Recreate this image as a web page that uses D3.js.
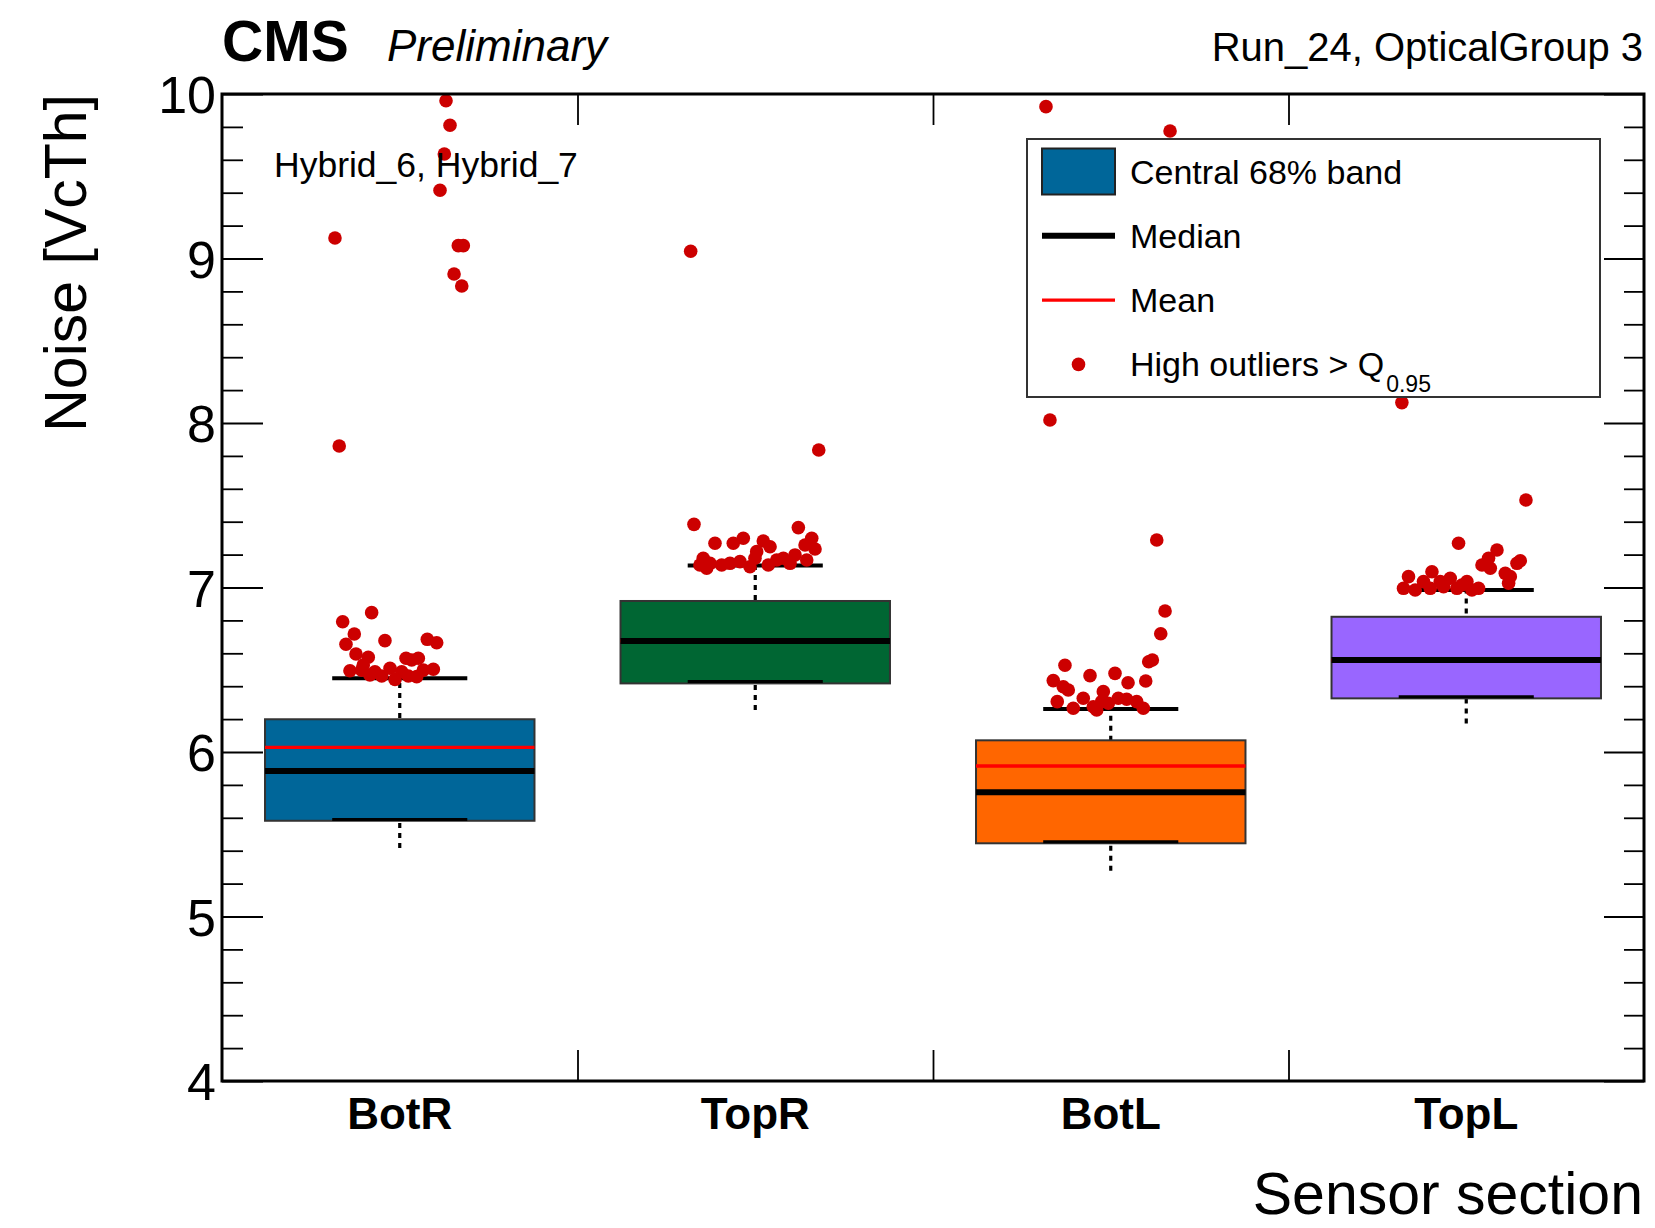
<!DOCTYPE html>
<html>
<head>
<meta charset="utf-8">
<script src="https://cdn.jsdelivr.net/npm/d3@7"></script>
<style>
  html, body { margin: 0; padding: 0; background: #fff; }
  svg { display: block; font-family: "Liberation Sans", Arial, Helvetica, sans-serif; }
</style>
</head>
<body>
<svg id="chart" width="1655" height="1228"></svg>
<script>
// Noise per sensor section: central 68% band, median, mean, whiskers and high outliers
const categories = ["BotR", "TopR", "BotL", "TopL"];
const bandLow    = [5.582, 6.417, 5.445, 6.326];
const bandHigh   = [6.199, 6.918, 6.071, 6.822];
const medians    = [5.884, 6.675, 5.755, 6.559];
const means      = [6.028, 6.675, 5.915, 6.559];
const capLow     = [5.590, 6.428, 5.455, 6.336];
const capHigh    = [6.448, 7.133, 6.261, 6.985];
const whiskerLow = [5.416, 6.255, 5.278, 6.174];
const boxColors  = ["#006699", "#006633", "#ff6600", "#9966ff"];

const yTicks = [4, 5, 6, 7, 8, 9, 10];

// High outliers: [horizontal spread (-1..1 of the cap half width), noise]
const outliersBotR = [
  [0.685, 9.959], [0.744, 9.810], [0.660, 9.635], [0.596, 9.415], [-0.959, 9.125],
  [0.867, 9.078], [0.941, 9.078], [0.804, 8.906], [0.918, 8.833], [-0.896, 7.860],
  [-0.416, 6.847], [-0.845, 6.792], [-0.673, 6.717], [-0.796, 6.655], [-0.219, 6.677],
  [0.408, 6.685], [0.547, 6.664], [-0.648, 6.596], [-0.466, 6.576], [0.093, 6.570],
  [0.275, 6.570], [0.177, 6.559], [-0.737, 6.494], [-0.564, 6.498], [-0.367, 6.488],
  [-0.144, 6.509], [0.029, 6.488], [0.349, 6.498], [0.497, 6.503], [-0.267, 6.462],
  [-0.070, 6.441], [0.127, 6.462], [0.251, 6.458], [-0.441, 6.468], [-0.540, 6.529]
];
const outliersTopR = [
  [-0.956, 9.044], [0.940, 7.836], [-0.907, 7.384], [0.638, 7.364], [-0.596, 7.269],
  [-0.325, 7.269], [-0.177, 7.299], [0.119, 7.283], [0.219, 7.248], [0.836, 7.299],
  [0.885, 7.234], [0.021, 7.218], [0.737, 7.258], [-0.770, 7.178], [-0.819, 7.137],
  [-0.670, 7.147], [-0.497, 7.137], [-0.374, 7.147], [-0.226, 7.157], [-0.078, 7.126],
  [-0.004, 7.178], [0.193, 7.137], [0.318, 7.167], [0.416, 7.178], [0.515, 7.147],
  [0.589, 7.198], [0.762, 7.167], [-0.719, 7.117]
];
const outliersBotL = [
  [-0.959, 9.923], [0.878, 9.775], [-0.900, 8.018], [0.681, 7.289], [0.804, 6.857],
  [0.740, 6.719], [0.616, 6.559], [0.562, 6.549], [0.518, 6.432], [-0.678, 6.527],
  [-0.851, 6.434], [-0.307, 6.464], [0.063, 6.478], [0.256, 6.421], [-0.792, 6.306],
  [-0.629, 6.377], [-0.110, 6.367], [-0.555, 6.266], [-0.407, 6.327], [-0.259, 6.275],
  [-0.208, 6.255], [-0.036, 6.296], [0.112, 6.327], [0.236, 6.321], [0.384, 6.306],
  [0.482, 6.266], [-0.134, 6.306], [-0.703, 6.397]
];
const outliersTopL = [
  [-0.953, 8.124], [0.884, 7.532], [-0.114, 7.269], [0.455, 7.228], [0.330, 7.178],
  [0.233, 7.137], [0.800, 7.163], [0.751, 7.147], [0.356, 7.117], [0.578, 7.086],
  [0.652, 7.066], [0.627, 7.026], [-0.508, 7.096], [-0.855, 7.066], [-0.633, 7.036],
  [-0.237, 7.056], [-0.385, 7.036], [0.010, 7.036], [-0.929, 6.995], [-0.756, 6.985],
  [-0.533, 6.995], [-0.336, 7.005], [-0.138, 6.995], [0.084, 6.985], [0.182, 6.995],
  [-0.064, 7.015]
];
const outliers = [outliersBotR, outliersTopR, outliersBotL, outliersTopL];

const legendLabels = ["Central 68% band", "Median", "Mean", "High outliers > Q"];

// ---- layout ----
const frame = { left: 222, right: 1644, top: 94, bottom: 1081 };
const svg = d3.select("#chart");

const x = d3.scaleBand().domain(categories).range([frame.left, frame.right]).padding(0);
const y = d3.scaleLinear().domain([4, 10]).range([frame.bottom, frame.top]);

const boxW = x.bandwidth() * 0.758;
const capW = x.bandwidth() * 0.38;
const cx = c => x(c) + x.bandwidth() / 2;

const rows = categories.map((c, i) => ({
  c, i, lo: bandLow[i], hi: bandHigh[i], med: medians[i], mean: means[i],
  capLo: capLow[i], capHi: capHigh[i], wLo: whiskerLow[i], color: boxColors[i]
}));

const plot = svg.append("g");

// dotted whiskers (behind the band)
plot.selectAll("line.whisker").data(rows).join("line")
  .attr("class", "whisker")
  .attr("x1", d => cx(d.c)).attr("x2", d => cx(d.c))
  .attr("y1", d => y(d.wLo)).attr("y2", d => y(d.capHi))
  .attr("stroke", "#000").attr("stroke-width", 3.2)
  .attr("stroke-dasharray", "5,5");

// central 68% band
plot.selectAll("rect.band").data(rows).join("rect")
  .attr("class", "band")
  .attr("x", d => cx(d.c) - boxW / 2)
  .attr("width", boxW)
  .attr("y", d => y(d.hi))
  .attr("height", d => y(d.lo) - y(d.hi))
  .attr("fill", d => d.color)
  .attr("stroke", "#333").attr("stroke-width", 2);

// mean
plot.selectAll("line.mean").data(rows).join("line")
  .attr("class", "mean")
  .attr("x1", d => cx(d.c) - boxW / 2).attr("x2", d => cx(d.c) + boxW / 2)
  .attr("y1", d => y(d.mean)).attr("y2", d => y(d.mean))
  .attr("stroke", "#ff0000").attr("stroke-width", 3.3);

// median
plot.selectAll("line.median").data(rows).join("line")
  .attr("class", "median")
  .attr("x1", d => cx(d.c) - boxW / 2).attr("x2", d => cx(d.c) + boxW / 2)
  .attr("y1", d => y(d.med)).attr("y2", d => y(d.med))
  .attr("stroke", "#000").attr("stroke-width", 6);

// whisker caps
plot.selectAll("line.capHi").data(rows).join("line")
  .attr("class", "capHi")
  .attr("x1", d => cx(d.c) - capW / 2).attr("x2", d => cx(d.c) + capW / 2)
  .attr("y1", d => y(d.capHi)).attr("y2", d => y(d.capHi))
  .attr("stroke", "#000").attr("stroke-width", 4);
plot.selectAll("line.capLo").data(rows).join("line")
  .attr("class", "capLo")
  .attr("x1", d => cx(d.c) - capW / 2).attr("x2", d => cx(d.c) + capW / 2)
  .attr("y1", d => y(d.capLo)).attr("y2", d => y(d.capLo))
  .attr("stroke", "#000").attr("stroke-width", 3);

// outliers
const pts = [];
rows.forEach(r => outliers[r.i].forEach(([j, v]) => pts.push({ c: r.c, j, v })));
plot.selectAll("circle.out").data(pts).join("circle")
  .attr("class", "out")
  .attr("cx", d => cx(d.c) + d.j * capW / 2)
  .attr("cy", d => y(d.v))
  .attr("r", 6.8)
  .attr("fill", "#cc0000");

// ---- axes ----
const minorTicks = d3.range(4, 10.001, 0.2).filter(v => Math.abs(v - Math.round(v)) > 1e-6);

const yAxis = svg.append("g").attr("transform", `translate(${frame.left},0)`)
  .call(d3.axisLeft(y).tickValues(yTicks).tickFormat(d3.format("d"))
    .tickSizeInner(-41).tickSizeOuter(0).tickPadding(6));
yAxis.selectAll("text").attr("font-size", 52).attr("fill", "#000")
  .attr("font-family", "'Liberation Sans', Arial, sans-serif").attr("dy", "0.36em");
svg.append("g").attr("transform", `translate(${frame.left},0)`)
  .call(d3.axisLeft(y).tickValues(minorTicks).tickFormat("")
    .tickSizeInner(-21).tickSizeOuter(0));
svg.append("g").attr("transform", `translate(${frame.right},0)`)
  .call(d3.axisRight(y).tickValues(yTicks).tickFormat("").tickSizeInner(-40).tickSizeOuter(0));
svg.append("g").attr("transform", `translate(${frame.right},0)`)
  .call(d3.axisRight(y).tickValues(minorTicks).tickFormat("").tickSizeInner(-20).tickSizeOuter(0));

// category boundaries on top and bottom edges
const bounds = categories.slice(1).map(c => x(c));
const xb = d3.scaleLinear().domain([frame.left, frame.right]).range([frame.left, frame.right]);
svg.append("g").attr("transform", `translate(0,${frame.top})`)
  .call(d3.axisBottom(xb).tickValues(bounds).tickFormat("").tickSizeInner(31).tickSizeOuter(0));
svg.append("g").attr("transform", `translate(0,${frame.bottom})`)
  .call(d3.axisTop(xb).tickValues(bounds).tickFormat("").tickSizeInner(31).tickSizeOuter(0));

// category labels
const xAxis = svg.append("g").attr("transform", `translate(0,${frame.bottom})`)
  .call(d3.axisBottom(x).tickSize(0).tickPadding(17));
xAxis.selectAll("text").attr("font-size", 44).attr("font-weight", "bold").attr("fill", "#000")
  .attr("font-family", "'Liberation Sans', Arial, sans-serif");

svg.selectAll(".domain").remove();
svg.selectAll(".tick line").attr("stroke", "#000").attr("stroke-width", 1.8);

// frame
svg.append("rect")
  .attr("x", frame.left).attr("y", frame.top)
  .attr("width", frame.right - frame.left).attr("height", frame.bottom - frame.top)
  .attr("fill", "none").attr("stroke", "#000").attr("stroke-width", 3);

// ---- texts ----
svg.append("text").attr("x", 222).attr("y", 61)
  .attr("font-size", 57).attr("font-weight", "bold").text("CMS");
svg.append("text").attr("x", 387).attr("y", 61)
  .attr("font-size", 44).attr("font-style", "italic").text("Preliminary");
svg.append("text").attr("x", 1643).attr("y", 61).attr("text-anchor", "end")
  .attr("font-size", 40).text("Run_24, OpticalGroup 3");
svg.append("text").attr("x", 274).attr("y", 177)
  .attr("font-size", 35.5).text("Hybrid_6, Hybrid_7");
svg.append("text").attr("x", 1643).attr("y", 1214).attr("text-anchor", "end")
  .attr("font-size", 59).text("Sensor section");
svg.append("text").attr("transform", "translate(86,94) rotate(-90)")
  .attr("text-anchor", "end").attr("font-size", 59).text("Noise [VcTh]");

// ---- legend ----
const lg = svg.append("g");
lg.append("rect").attr("x", 1027).attr("y", 139).attr("width", 573).attr("height", 258)
  .attr("fill", "#fff").attr("stroke", "#333").attr("stroke-width", 2);
const rowY = i => 171.5 + i * 64.3;
lg.append("rect").attr("x", 1042).attr("y", rowY(0) - 23).attr("width", 73).attr("height", 46)
  .attr("fill", boxColors[0]).attr("stroke", "#222").attr("stroke-width", 2);
lg.append("line").attr("x1", 1042).attr("x2", 1115).attr("y1", rowY(1)).attr("y2", rowY(1))
  .attr("stroke", "#000").attr("stroke-width", 6);
lg.append("line").attr("x1", 1042).attr("x2", 1115).attr("y1", rowY(2)).attr("y2", rowY(2))
  .attr("stroke", "#ff0000").attr("stroke-width", 3.3);
lg.append("circle").attr("cx", 1078.5).attr("cy", rowY(3)).attr("r", 6.8).attr("fill", "#cc0000");
legendLabels.forEach((t, i) => {
  const tx = lg.append("text").attr("x", 1130).attr("y", rowY(i) + 12).attr("font-size", 34).text(t);
  if (i === 3) {
    tx.append("tspan").attr("font-size", 23).attr("dx", 2).attr("dy", 16).text("0.95");
  }
});
</script>
</body>
</html>
